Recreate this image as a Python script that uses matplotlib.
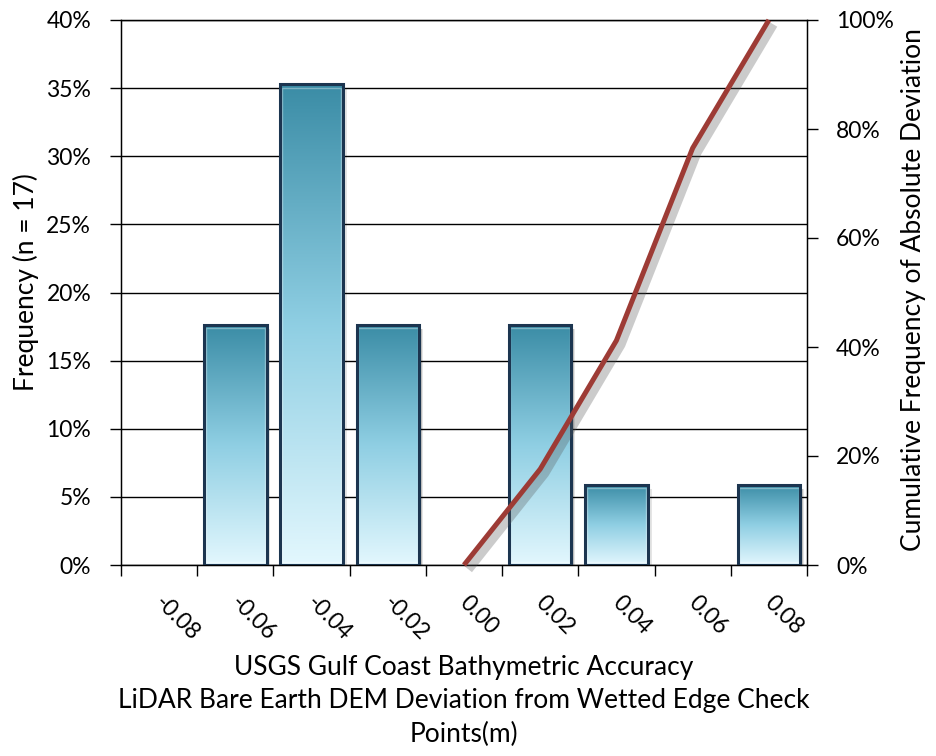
import numpy as np
import matplotlib
matplotlib.use("Agg")
import matplotlib.pyplot as plt
from matplotlib.colors import LinearSegmentedColormap
from matplotlib.patches import Rectangle
from matplotlib.transforms import ScaledTranslation
import matplotlib.patheffects as pe
from matplotlib.ticker import FixedLocator, FuncFormatter, NullLocator

# Histogram of DEM deviations (m) from wetted-edge check points
categories = ['-0.08', '-0.06', '-0.04', '-0.02', '0.00', '0.02', '0.04', '0.06', '0.08']
counts = [0, 3, 6, 3, 0, 3, 1, 0, 1]
n_points = 17

# Cumulative frequency of absolute deviation (%)
cum_categories = ['0.00', '0.02', '0.04', '0.06', '0.08']
cum_percent = [0.0, 17.6, 41.2, 76.5, 100.0]

left_ticks = [0, 5, 10, 15, 20, 25, 30, 35, 40]
right_ticks = [0, 20, 40, 60, 80, 100]

plt.rcParams['font.family'] = ['Lato', 'DejaVu Sans']
TICK_FS = 16.5
LABEL_FS = 19

fig = plt.figure(figsize=(9.37, 7.56), dpi=100)
W, H = 937, 756
ax = fig.add_axes([121 / W, 1 - 565 / H, 686 / W, 545 / H])

x = np.arange(len(categories))
freq = np.array(counts) / n_points * 100

bar_w = 0.82
cmap = LinearSegmentedColormap.from_list(
    'teal', [(0.89, 0.97, 0.995), (0.56, 0.81, 0.89), (0.23, 0.55, 0.65)])
grad = np.linspace(0, 1, 256).reshape(-1, 1)

bars = ax.bar(x, freq, width=bar_w, color='none', edgecolor='#1c3550',
              linewidth=2.2, zorder=4)
for b in bars:
    h = b.get_height()
    if h <= 0:
        b.set_visible(False)
        continue
    x0, w = b.get_x(), b.get_width()
    # soft drop shadow
    for k, a in [(0.05, 0.10), (0.035, 0.16), (0.02, 0.22)]:
        ax.add_patch(Rectangle((x0 + k, -0.3), w, h, facecolor='black',
                               edgecolor='none', alpha=a, zorder=2))
    ax.imshow(grad, extent=(x0, x0 + w, 0, h), origin='lower', cmap=cmap,
              aspect='auto', interpolation='bicubic', zorder=3)
    # light inner rim
    ax.add_patch(Rectangle((x0 + 0.02, 0.25), w - 0.04, h - 0.5, facecolor='none',
                           edgecolor='white', linewidth=1.0, alpha=0.35, zorder=3.5))

ax.set_xlim(-0.5, len(categories) - 0.5)
ax.set_ylim(0, 40)

ax.set_axisbelow(True)
ax.yaxis.grid(True, color='black', linewidth=1.0)
ax.set_yticks(left_ticks)
ax.yaxis.set_major_formatter(FuncFormatter(lambda v, p: f"{v:.0f}%"))
ax.tick_params(axis='y', direction='out', length=8, width=1, labelsize=TICK_FS, pad=13.5)

# boundary tick marks; category labels start near each centre and run down-right
ax.xaxis.set_major_locator(FixedLocator(np.arange(-0.5, len(categories), 1)))
ax.xaxis.set_minor_locator(NullLocator())
ax.tick_params(axis='x', which='major', direction='out', length=8, width=1,
               labelbottom=False)
label_shift = ScaledTranslation(-5.5 / 100, -39 / 100, fig.dpi_scale_trans)
for xi, cat in zip(x, categories):
    ax.text(xi, 0, cat, transform=ax.get_xaxis_transform() + label_shift,
            rotation=-45, rotation_mode='anchor', ha='left', va='baseline',
            fontsize=TICK_FS, clip_on=False)

for s in ['left', 'right', 'bottom', 'top']:
    ax.spines[s].set_color('black')
    ax.spines[s].set_linewidth(1)

ax.set_ylabel('Frequency (n = 17)', fontsize=LABEL_FS)
ax.yaxis.set_label_coords((39 - 121) / 686, 0.52)
ax.set_xlabel('USGS Gulf Coast Bathymetric Accuracy\n'
              'LiDAR Bare Earth DEM Deviation from Wetted Edge Check\n'
              'Points(m)', fontsize=LABEL_FS, linespacing=1.42)
ax.xaxis.set_label_coords(0.5, (565 - 655) / 545)

ax2 = ax.twinx()
ax2.set_ylim(0, 100)
ax2.set_yticks(right_ticks)
ax2.yaxis.set_major_formatter(FuncFormatter(lambda v, p: f"{v:.0f}%"))
ax2.tick_params(axis='y', direction='out', length=8, width=1, labelsize=TICK_FS, pad=13)
ax2.set_ylabel('Cumulative Frequency of Absolute Deviation', fontsize=LABEL_FS,
               rotation=90)
ax2.yaxis.set_label_coords((901 - 121) / 686, 0.505)

cum_x = [categories.index(c) for c in cum_categories]
ax2.plot(cum_x, cum_percent, color='#9d3b35', linewidth=3.6, clip_on=False,
         solid_capstyle='butt', zorder=5,
         path_effects=[pe.SimpleLineShadow(offset=(3, -3), shadow_color='#555555',
                                           alpha=0.3, linewidth=7),
                       pe.Normal()])

fig.savefig('out.png', dpi=100)
